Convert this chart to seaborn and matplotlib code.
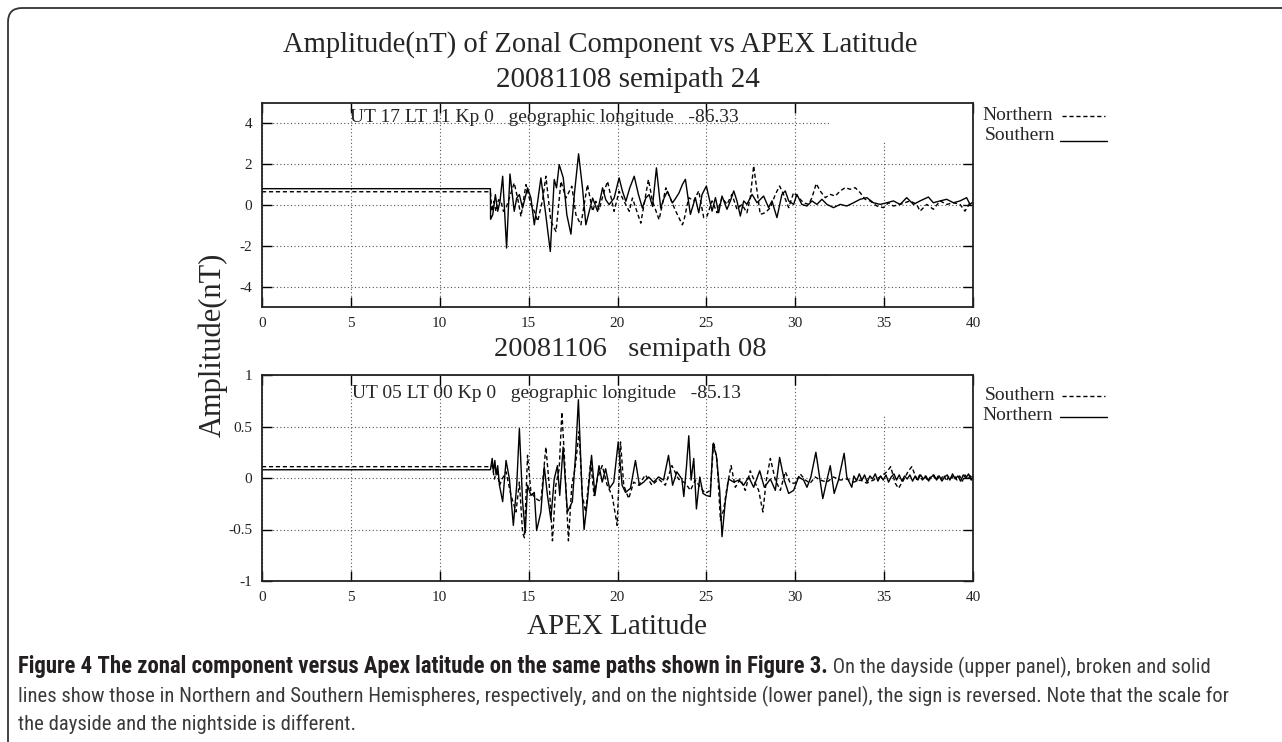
import matplotlib
matplotlib.use('Agg')
import matplotlib.pyplot as plt
import pandas as pd
import seaborn as sns
from matplotlib.lines import Line2D
from matplotlib.patches import FancyBboxPatch, Rectangle
from matplotlib.transforms import IdentityTransform
from matplotlib import font_manager

# ---------------- data ----------------
# Upper panel (dayside) 20081108 semipath 24 : (APEX latitude, amplitude nT)
day_south = [(0, 0.8), (12.85, 0.8), (12.86, -0.7), (12.98, -0.48), (13.13, 0.51), (13.26, -0.31),
             (13.39, 0.18), (13.54, 1.41), (13.76, -2.11), (13.95, 1.52), (14.19, -0.31), (14.33, 0.34),
             (14.48, 0.51), (14.66, -0.15), (14.94, 0.84), (15.13, 0.34), (15.32, -0.97), (15.51, 0.18),
             (15.69, 1.33), (15.94, -0.31), (16.22, -2.28), (16.44, 1.25), (16.57, 0.84), (16.72, 1.98),
             (16.95, 1.33), (17.15, -0.48), (17.38, -1.43), (17.57, 0.51), (17.81, 2.51), (18.03, 0.84),
             (18.22, -0.97), (18.41, -0.31), (18.60, 0.34), (18.88, -0.31), (19.16, 0.84), (19.34, 0.26),
             (19.53, 0.02), (19.81, 0.34), (20.09, 1.33), (20.28, 0.67), (20.47, 0.18), (20.69, 0.84),
             (20.94, 1.41), (21.18, 0.51), (21.40, -0.15), (21.59, 0.34), (21.78, 0.51), (21.97, -0.07),
             (22.19, 1.82), (22.43, -0.15), (22.62, 0.34), (22.81, 0.67), (23.09, 0.10), (23.28, 0.34),
             (23.46, 0.59), (23.65, 1.0), (23.82, 1.26), (24.10, -0.46), (24.38, 0.36), (24.57, -0.38),
             (24.76, 0.52), (25.00, 0.93), (25.32, -0.30), (25.51, 0.36), (25.69, -0.38), (25.88, 0.44),
             (26.16, -0.21), (26.35, 0.20), (26.54, 0.69), (26.72, 0.20), (26.91, -0.54), (27.10, 0.20),
             (27.28, 0.03), (27.57, 0.52), (27.85, 0.11), (28.22, 0.44), (28.50, -0.13), (28.69, 0.20),
             (28.97, -0.62), (29.25, 0.52), (29.44, 0.69), (29.63, 0.20), (29.91, 0.03), (30.09, 0.52),
             (30.37, 0.03), (30.66, -0.05), (30.94, 0.20), (31.22, 0.03), (31.50, 0.28), (31.78, 0.03),
             (32.15, -0.13), (32.53, 0.03), (32.90, -0.05), (33.28, 0.11), (33.65, 0.28), (34.03, 0.36),
             (34.40, 0.11), (34.78, 0.03), (35.15, 0.11), (35.52, 0.20), (35.90, 0.03), (36.27, 0.36),
             (36.65, 0.03), (37.02, 0.20), (37.49, 0.39), (37.77, 0.11), (38.15, 0.20), (38.52, 0.28),
             (38.90, 0.11), (39.27, 0.20), (39.64, 0.36), (39.83, 0.03), (40.0, 0.15)]

day_north = [(0, 0.65), (12.85, 0.65), (12.94, -0.31), (13.05, 0.18), (13.16, -0.31), (13.31, 0.26),
             (13.45, 0.18), (13.58, -0.31), (13.73, -0.15), (13.91, 0.34), (14.19, 1.08), (14.38, 0.34),
             (14.57, -0.56), (14.85, 1.0), (15.13, 0.02), (15.32, -0.31), (15.51, -0.80), (15.79, 0.26),
             (15.97, 1.41), (16.25, -0.80), (16.54, -1.30), (16.82, 1.16), (17.10, 0.34), (17.43, 0.92),
             (17.66, -0.48), (17.94, -0.97), (18.31, 1.0), (18.60, -0.31), (18.78, 0.18), (18.97, -0.23),
             (19.19, 0.51), (19.44, 1.16), (19.81, -0.31), (20.09, 0.67), (20.37, 0.18), (20.66, -0.31),
             (20.84, 0.34), (21.31, -0.89), (21.74, 1.25), (21.97, 0.18), (22.34, -0.72), (22.72, 0.84),
             (23.0, 0.26), (23.28, -0.31), (23.65, -0.97), (23.73, -0.79), (24.01, 0.36), (24.29, 0.20),
             (24.57, 0.69), (24.85, -0.62), (25.04, -0.54), (25.32, 0.20), (25.60, -0.38), (25.88, 0.36),
             (26.16, 0.03), (26.44, 0.52), (26.72, -0.21), (27.0, 0.03), (27.28, -0.38), (27.47, 0.36),
             (27.66, 1.92), (27.85, 0.69), (28.03, -0.46), (28.31, -0.38), (28.60, -0.13), (28.88, 0.52),
             (29.12, 0.93), (29.34, 0.52), (29.63, -0.13), (29.91, 0.61), (30.19, 0.36), (30.47, 0.11),
             (30.75, 0.03), (30.94, 0.36), (31.18, 1.05), (31.40, 0.69), (31.69, 0.36), (31.97, 0.52),
             (32.25, 0.44), (32.53, 0.69), (32.81, 0.85), (33.09, 0.77), (33.37, 0.85), (33.65, 0.61),
             (33.93, 0.28), (34.21, 0.20), (34.59, -0.05), (34.96, -0.13), (35.24, 0.11), (35.52, -0.05),
             (35.90, 0.03), (36.46, 0.20), (36.83, 0.03), (37.02, -0.30), (37.40, 0.03), (37.77, -0.21),
             (38.15, 0.20), (38.52, 0.03), (38.90, 0.11), (39.27, 0.03), (39.55, -0.30), (39.83, 0.11),
             (40.0, 0.1)]

# Lower panel (nightside) 20081106 semipath 08
night_north = [(0, 0.08), (12.85, 0.08), (12.95, 0.19), (13.02, 0.06), (13.10, 0.17), (13.17, 0.03),
               (13.26, 0.12), (13.36, -0.07), (13.54, -0.23), (13.73, 0.17), (13.92, -0.01), (14.14, -0.46),
               (14.33, -0.07), (14.48, 0.48), (14.66, -0.23), (14.81, -0.53), (14.94, -0.07), (15.13, -0.17),
               (15.32, -0.14), (15.45, -0.51), (15.69, -0.33), (15.88, 0.11), (16.06, -0.17), (16.25, -0.40),
               (16.44, -0.01), (16.62, 0.12), (16.75, -0.17), (16.94, 0.30), (17.18, -0.33), (17.46, -0.23),
               (17.65, 0.25), (17.80, 0.76), (17.99, -0.07), (18.12, -0.50), (18.30, -0.23), (18.54, 0.22),
               (18.73, -0.17), (18.96, 0.12), (19.14, -0.04), (19.33, 0.09), (19.55, -0.10), (19.79, -0.04),
               (20.04, 0.35), (20.26, -0.07), (20.45, -0.14), (20.73, -0.10), (21.01, 0.17), (21.23, -0.07),
               (21.47, -0.04), (21.75, 0.01), (22.03, -0.04), (22.31, 0.01), (22.59, -0.02), (22.87, 0.22),
               (23.10, -0.07), (23.34, 0.06), (23.62, -0.01), (23.73, -0.18), (23.88, 0.11), (24.01, 0.41),
               (24.14, -0.02), (24.29, 0.19), (24.44, -0.30), (24.63, 0.01), (24.81, -0.15), (25.0, -0.17),
               (25.22, -0.18), (25.37, 0.33), (25.56, 0.22), (25.75, -0.12), (25.88, -0.57), (26.07, -0.22),
               (26.25, -0.01), (26.54, -0.04), (26.82, -0.02), (27.10, -0.07), (27.38, 0.01), (27.66, -0.09),
               (28.0, 0.07), (28.26, -0.09), (28.60, -0.01), (28.88, -0.12), (29.12, 0.20), (29.38, -0.02),
               (29.63, -0.15), (29.91, -0.12), (30.19, 0.01), (30.47, -0.02), (30.66, -0.09), (30.88, 0.01),
               (31.16, 0.25), (31.37, 0.01), (31.55, -0.20), (31.78, -0.02), (31.97, 0.12), (32.19, -0.15),
               (32.43, -0.02), (32.75, 0.24), (32.90, 0.01), (33.18, -0.09), (33.3, 0.02), (33.45, -0.03),
               (33.6, 0.04), (33.75, -0.02), (33.9, 0.03), (34.05, -0.04), (34.2, 0.02), (34.35, -0.01),
               (34.5, 0.04), (34.65, -0.03), (34.8, 0.02), (34.95, -0.02), (35.1, 0.03), (35.25, -0.04),
               (35.4, 0.01), (35.55, 0.04), (35.7, -0.02), (35.85, 0.03), (36.0, -0.03), (36.15, 0.02),
               (36.3, -0.01), (36.45, 0.03), (36.6, -0.03), (36.75, 0.02), (36.9, -0.02), (37.05, 0.03),
               (37.2, -0.01), (37.35, 0.02), (37.5, -0.03), (37.65, 0.01), (37.8, 0.03), (37.95, -0.02),
               (38.1, 0.02), (38.25, -0.03), (38.4, 0.01), (38.55, 0.03), (38.7, -0.02), (38.85, 0.04),
               (39.0, -0.01), (39.15, 0.02), (39.3, -0.03), (39.45, 0.03), (39.6, 0.0), (39.75, 0.04),
               (39.9, -0.02), (40.0, 0.02)]

night_south = [(0, 0.11), (12.85, 0.11), (12.95, 0.12), (13.08, -0.01), (13.21, 0.09), (13.36, -0.07),
               (13.51, -0.01), (13.73, 0.06), (14.01, -0.17), (14.29, -0.33), (14.48, -0.04), (14.66, -0.53),
               (14.76, -0.58), (14.94, 0.22), (15.13, -0.14), (15.41, -0.20), (15.69, -0.23), (15.97, 0.30),
               (16.16, -0.07), (16.34, -0.61), (16.53, -0.07), (16.72, 0.09), (16.87, 0.64), (17.0, 0.25),
               (17.24, -0.61), (17.43, -0.07), (17.61, 0.09), (17.84, 0.45), (18.02, -0.17), (18.21, -0.33),
               (18.49, 0.16), (18.68, -0.17), (18.86, -0.01), (19.14, 0.12), (19.42, -0.07), (19.70, -0.17),
               (19.98, -0.46), (20.17, 0.35), (20.35, -0.07), (20.63, -0.20), (20.91, -0.04), (21.19, -0.07),
               (21.57, 0.03), (21.94, -0.07), (22.31, -0.01), (22.69, -0.07), (23.06, 0.12), (23.43, -0.01),
               (23.82, -0.05), (24.10, -0.12), (24.38, -0.02), (24.66, -0.09), (24.94, -0.15), (25.22, -0.12),
               (25.41, 0.35), (25.60, 0.17), (25.79, -0.41), (25.97, -0.31), (26.16, -0.09), (26.39, 0.12),
               (26.63, -0.09), (26.91, -0.01), (27.19, -0.12), (27.47, 0.07), (27.75, -0.05), (27.94, -0.12),
               (28.18, -0.33), (28.37, -0.02), (28.60, 0.19), (28.88, -0.02), (29.16, -0.12), (29.44, 0.06),
               (29.72, -0.05), (30.0, -0.05), (30.28, 0.04), (30.56, -0.02), (30.84, -0.05), (31.12, 0.01),
               (31.40, -0.02), (31.78, -0.04), (32.15, 0.01), (32.53, -0.02), (32.90, -0.01), (33.28, -0.04),
               (33.65, -0.02), (34.03, -0.05), (34.40, -0.02), (34.78, 0.01), (35.15, 0.06), (35.37, 0.11),
               (35.62, -0.05), (35.81, -0.10), (36.09, -0.02), (36.37, 0.07), (36.56, 0.11), (36.84, -0.02),
               (37.0, 0.03), (37.15, -0.02), (37.3, 0.02), (37.45, -0.03), (37.6, 0.01), (37.75, 0.03),
               (37.9, -0.02), (38.05, 0.02), (38.2, -0.01), (38.35, 0.03), (38.5, -0.03), (38.65, 0.02),
               (38.8, 0.0), (38.95, 0.03), (39.1, -0.02), (39.25, 0.02), (39.4, -0.03), (39.55, 0.03),
               (39.7, -0.01), (39.85, 0.02), (40.0, 0.0)]

x_ticks = [0, 5, 10, 15, 20, 25, 30, 35, 40]
day_yticks = [-4, -2, 0, 2, 4]
night_yticks = [-1, -0.5, 0, 0.5, 1]
night_yticklabels = ['-1', '-0.5', '0', '0.5', '1']

title_line1 = 'Amplitude(nT) of Zonal Component vs APEX Latitude'
title_line2 = '20081108 semipath 24'
title_night = '20081106   semipath 08'
note_day = 'UT 17 LT 11 Kp 0   geographic longitude   -86.33'
note_night = 'UT 05 LT 00 Kp 0   geographic longitude   -85.13'
caption_bold = 'Figure 4 The zonal component versus Apex latitude on the same paths shown in Figure 3.'
caption_rest = [' On the dayside (upper panel), broken and solid',
                'lines show those in Northern and Southern Hemispheres, respectively, and on the nightside (lower panel), the sign is reversed. Note that the scale for',
                'the dayside and the nightside is different.']

# ---------------- style ----------------
sns.set_style('ticks')
SERIF = ['Liberation Serif', 'DejaVu Serif']
plt.rcParams['font.family'] = SERIF
plt.rcParams['axes.unicode_minus'] = False

avail = {f.name for f in font_manager.fontManager.ttflist}
cap_font = next((f for f in ['Liberation Sans Narrow', 'Roboto Condensed', 'Open Sans', 'Noto Sans', 'DejaVu Sans'] if f in avail), 'DejaVu Sans')
CAP_FAMILY = [cap_font, 'DejaVu Sans']

W, H = 1282, 742
fig = plt.figure(figsize=(W / 100, H / 100), dpi=100)
fig.patch.set_facecolor('white')


def fx(px):
    return px / W


def fy(py):
    return 1 - py / H


ax1 = fig.add_axes([fx(262), fy(307), 711 / W, 204 / H])
ax2 = fig.add_axes([fx(262), fy(581), 711 / W, 206 / H])

GRID = dict(color='#555555', linestyle=(0, (1, 2.2)), linewidth=0.8)


def style_axis(ax, ylim, yticks, yticklabels, blank_y):
    ax.set_xlim(0, 40)
    ax.set_ylim(*ylim)
    ax.set_xticks(x_ticks)
    ax.set_xticklabels([str(t) for t in x_ticks])
    ax.set_yticks(yticks)
    ax.set_yticklabels(yticklabels)
    ax.tick_params(direction='in', length=7, width=1.0, top=True, right=True,
                   labelsize=11, colors='black', pad=7)
    for lab in ax.get_xticklabels() + ax.get_yticklabels():
        lab.set_color('#222222')
    for s in ax.spines.values():
        s.set_visible(True)
        s.set_linewidth(1.3)
        s.set_color('#222222')
        s.set_zorder(5)
    ax.grid(True, **GRID)
    ax.set_axisbelow(True)
    # gnuplot leaves the key corner without grid
    ax.add_patch(Rectangle((31.9, blank_y), 8.1, ylim[1] - blank_y, facecolor='white',
                           edgecolor='none', zorder=1.5))
    ax.set_xlabel('')
    ax.set_ylabel('')


def draw(ax, data, dashed):
    df = pd.DataFrame(data, columns=['lat', 'amp'])
    sns.lineplot(data=df, x='lat', y='amp', ax=ax, color='black', linewidth=1.0,
                 estimator=None, sort=False, zorder=3)
    line = ax.lines[-1]
    if dashed:
        line.set_linestyle((0, (3, 2)))


draw(ax1, day_north, True)
draw(ax1, day_south, False)
draw(ax2, night_south, True)
draw(ax2, night_north, False)

style_axis(ax1, (-5, 5), day_yticks, [str(t) for t in day_yticks], 3.1)
style_axis(ax2, (-1, 1), night_yticks, night_yticklabels, 0.61)

# titles / labels
fig.text(fx(600), fy(45), title_line1, ha='center', va='center', fontsize=20.6)
fig.text(fx(628), fy(80), title_line2, ha='center', va='center', fontsize=21)
fig.text(fx(630), fy(350), title_night, ha='center', va='center', fontsize=20.5)
fig.text(fx(213), fy(345), 'Amplitude(nT)', ha='center', va='center', rotation=90, fontsize=22)
fig.text(fx(617), fy(627), 'APEX Latitude', ha='center', va='center', fontsize=21)

fig.text(fx(350), fy(118), note_day, ha='left', va='center', fontsize=14)
fig.text(fx(352), fy(393), note_night, ha='left', va='center', fontsize=14)

# legends (outside, right)
def key(label, py, dashed, tx, lx0, lx1, ly):
    fig.text(fx(tx), fy(py), label, ha='left', va='center', fontsize=14)
    fig.add_artist(Line2D([fx(lx0), fx(lx1)], [fy(ly), fy(ly)], color='black', linewidth=1.0,
                          linestyle=(0, (3, 2)) if dashed else '-'))

key('Northern', 115, True, 982, 1062, 1105, 116)
key('Southern', 135, False, 985, 1060, 1107, 141)
key('Southern', 395, True, 985, 1062, 1105, 396)
key('Northern', 416, False, 982, 1060, 1107, 417)

# frame of the figure box
fig.add_artist(FancyBboxPatch((8, -100), 1400, 734 + 100, boxstyle='round,pad=0,rounding_size=14',
                              transform=IdentityTransform(), facecolor='none',
                              edgecolor='#333333', linewidth=1.3))

# caption: regular size fitted on line 2, bold part ending where the reference's does
fig.canvas.draw()
renderer = fig.canvas.get_renderer()


def width_at(text, size, weight='normal'):
    t = fig.text(0, 0, text, fontsize=size, fontweight=weight, family=CAP_FAMILY)
    w = t.get_window_extent(renderer).width
    t.remove()
    return w


reg_size = 10 * 1200 / width_at(caption_rest[1], 10)
bold_size = 10 * 815 / width_at(caption_bold, 10, 'bold')
bold_size = min(bold_size, reg_size * 1.1)
cap_color = '#231f20'
tb = fig.text(fx(18), fy(667), caption_bold, fontsize=bold_size, fontweight='bold', va='center',
              family=CAP_FAMILY, color=cap_color)
wb = tb.get_window_extent(renderer).width
fig.text(fx(18 + wb), fy(667), caption_rest[0], fontsize=reg_size, va='center',
         family=CAP_FAMILY, color='#3a3a3a')
fig.text(fx(18), fy(696), caption_rest[1], fontsize=reg_size, va='center',
         family=CAP_FAMILY, color='#3a3a3a')
fig.text(fx(18), fy(724), caption_rest[2], fontsize=reg_size, va='center',
         family=CAP_FAMILY, color='#3a3a3a')

fig.savefig('out.png', dpi=100)
